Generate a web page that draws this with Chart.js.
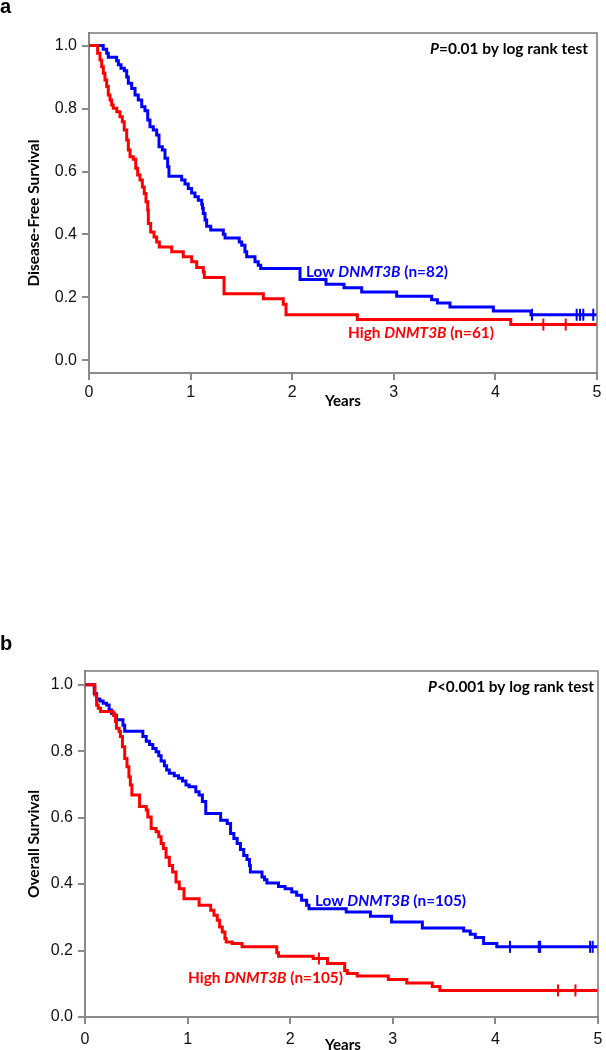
<!DOCTYPE html>
<html>
<head>
<meta charset="utf-8">
<title>DNMT3B survival curves</title>
<script src="https://cdn.jsdelivr.net/npm/chart.js@4"></script>
<style>
  html, body { margin: 0; padding: 0; background: #fff; }
  body { width: 606px; height: 1050px; position: relative; overflow: hidden; }
  canvas { position: absolute; left: 0; }
  #panel_a { top: 0; }
  #panel_b { top: 630px; }
</style>
</head>
<body>
<canvas id="panel_a" width="606" height="420"></canvas>
<canvas id="panel_b" width="606" height="420"></canvas>
<script>
/*
*  Kaplan-Meier curves, low vs high DNMT3B (a: disease-free, b: overall)
*  each series = event times (years) and survival after that event
*/

const xTicks = [0, 1, 2, 3, 4, 5];
const yTicks = [0, 0.2, 0.4, 0.6, 0.8, 1.0];
const yTickLabels = ['0.0', '0.2', '0.4', '0.6', '0.8', '1.0'];

// panel a - disease-free survival
const aLowYears = [0.14, 0.174, 0.19, 0.272, 0.289, 0.315, 0.348, 0.371, 0.387, 0.42, 0.453, 0.485, 0.519, 0.551, 0.578, 0.6, 0.633, 0.666, 0.689, 0.722, 0.748, 0.774, 0.787, 0.912, 0.945, 0.977, 1.01, 1.043, 1.076, 1.109, 1.117, 1.125, 1.142, 1.158, 1.198, 1.322, 1.339, 1.479, 1.503, 1.535, 1.552, 1.634, 1.666, 1.69, 2.077, 2.333, 2.51, 2.684, 3.028, 3.373, 3.429, 3.553, 3.98, 4.35];
const aLowSurv  = [0.988, 0.976, 0.963, 0.952, 0.939, 0.928, 0.92, 0.90, 0.88, 0.864, 0.843, 0.827, 0.806, 0.793, 0.764, 0.742, 0.732, 0.716, 0.679, 0.668, 0.642, 0.615, 0.585, 0.573, 0.56, 0.546, 0.532, 0.52, 0.509, 0.496, 0.483, 0.467, 0.446, 0.426, 0.414, 0.401, 0.389, 0.376, 0.366, 0.345, 0.329, 0.313, 0.302, 0.292, 0.257, 0.242, 0.231, 0.217, 0.204, 0.193, 0.182, 0.17, 0.157, 0.145];
const aLowCensored = [4.36, 4.8, 4.833, 4.865, 4.963];

const aHighYears = [0.085, 0.108, 0.125, 0.141, 0.157, 0.174, 0.19, 0.207, 0.223, 0.239, 0.273, 0.305, 0.328, 0.347, 0.371, 0.387, 0.404, 0.436, 0.46, 0.479, 0.502, 0.525, 0.544, 0.561, 0.578, 0.584, 0.607, 0.64, 0.666, 0.692, 0.814, 0.928, 1.011, 1.06, 1.125, 1.135, 1.329, 1.716, 1.912, 1.939, 2.641, 4.151];
const aHighSurv  = [0.976, 0.954, 0.933, 0.912, 0.891, 0.87, 0.843, 0.827, 0.811, 0.801, 0.79, 0.774, 0.758, 0.732, 0.70, 0.668, 0.647, 0.639, 0.61, 0.589, 0.573, 0.551, 0.53, 0.504, 0.477, 0.435, 0.408, 0.392, 0.376, 0.36, 0.345, 0.329, 0.313, 0.295, 0.281, 0.263, 0.212, 0.196, 0.178, 0.145, 0.130, 0.114];
const aHighCensored = [4.472, 4.692];

// panel b - overall survival
const bLowYears = [0.09, 0.113, 0.145, 0.177, 0.21, 0.235, 0.258, 0.283, 0.307, 0.37, 0.387, 0.564, 0.597, 0.629, 0.661, 0.693, 0.719, 0.742, 0.774, 0.796, 0.822, 0.87, 0.912, 0.951, 0.984, 1.015, 1.08, 1.112, 1.144, 1.177, 1.322, 1.386, 1.419, 1.451, 1.483, 1.515, 1.547, 1.579, 1.603, 1.612, 1.725, 1.75, 1.773, 1.886, 1.95, 2.015, 2.063, 2.111, 2.16, 2.183, 2.546, 2.782, 2.988, 3.288, 3.691, 3.755, 3.804, 3.885, 4.014];
const bLowSurv  = [0.973, 0.957, 0.951, 0.944, 0.939, 0.924, 0.914, 0.907, 0.894, 0.878, 0.86, 0.844, 0.83, 0.82, 0.808, 0.798, 0.786, 0.77, 0.756, 0.743, 0.733, 0.726, 0.718, 0.71, 0.698, 0.693, 0.678, 0.668, 0.648, 0.612, 0.592, 0.582, 0.552, 0.537, 0.522, 0.504, 0.486, 0.474, 0.456, 0.436, 0.421, 0.413, 0.403, 0.393, 0.386, 0.376, 0.366, 0.351, 0.336, 0.326, 0.316, 0.303, 0.286, 0.268, 0.259, 0.249, 0.239, 0.221, 0.211];
const bLowCensored = [4.142, 4.423, 4.436, 4.923, 4.948];

const bHighYears = [0.097, 0.113, 0.129, 0.152, 0.274, 0.297, 0.307, 0.332, 0.345, 0.365, 0.387, 0.409, 0.428, 0.442, 0.457, 0.532, 0.597, 0.612, 0.645, 0.693, 0.719, 0.742, 0.764, 0.79, 0.822, 0.854, 0.887, 0.919, 0.965, 1.112, 1.225, 1.257, 1.289, 1.312, 1.338, 1.364, 1.376, 1.434, 1.531, 1.869, 1.886, 2.224, 2.363, 2.531, 2.556, 2.653, 2.956, 3.136, 3.385, 3.459];
const bHighSurv  = [0.969, 0.939, 0.929, 0.919, 0.909, 0.889, 0.869, 0.859, 0.844, 0.813, 0.778, 0.753, 0.723, 0.698, 0.668, 0.633, 0.623, 0.602, 0.567, 0.557, 0.542, 0.522, 0.507, 0.481, 0.456, 0.436, 0.406, 0.386, 0.356, 0.336, 0.321, 0.306, 0.291, 0.271, 0.256, 0.236, 0.226, 0.221, 0.211, 0.193, 0.183, 0.176, 0.161, 0.140, 0.131, 0.123, 0.113, 0.102, 0.092, 0.080];
const bHighCensored = [2.28, 4.61, 4.78];

const RED = '#ff0000';
const BLUE = '#0000ff';
const AXIS_GRAY = '#8a8a8a';
const TICK_FONT = { family: '"Liberation Sans", Arial, sans-serif', size: 16 };

function kmPoints(years, surv) {
    let pts = [{x: 0, y: 1}];
    years.forEach((t, i) => pts.push({x: t, y: surv[i]}));
    pts.push({x: 5, y: surv[surv.length - 1]});
    return pts;
}

function survivalAt(years, surv, t) {
    let s = 1;
    years.forEach((ti, i) => { if (ti <= t) s = surv[i]; });
    return s;
}

function censorPoints(years, surv, marks) {
    return marks.map(t => ({x: t, y: survivalAt(years, surv, t)}));
}

function richFont(italic) {
    return (italic ? 'italic ' : '') + 'bold 16px Lato, "Open Sans", sans-serif';
}

// draws bold text made of [text, italic] parts, squeezed to the given width
function drawRich(ctx, parts, x, y, width, color) {
    let natural = 0;
    parts.forEach(([txt, it]) => { ctx.font = richFont(it); natural += ctx.measureText(txt).width; });
    ctx.save();
    ctx.translate(x, y);
    ctx.scale(width / natural, 1);
    ctx.fillStyle = color;
    ctx.textBaseline = 'middle';
    let cx = 0;
    parts.forEach(([txt, it]) => {
        ctx.font = richFont(it);
        ctx.fillText(txt, cx, 0);
        cx += ctx.measureText(txt).width;
    });
    ctx.restore();
}

const kmNotes = {
    id: 'kmNotes',
    afterDraw(chart, args, opts) {
        const ctx = chart.ctx, area = chart.chartArea;
        ctx.save();
        // top + right side of the frame
        ctx.strokeStyle = '#7a7a7a';
        ctx.lineWidth = 1.5;
        ctx.beginPath();
        ctx.moveTo(area.left, area.top);
        ctx.lineTo(area.right, area.top);
        ctx.lineTo(area.right, area.bottom);
        ctx.stroke();
        // panel letter
        ctx.fillStyle = '#000';
        ctx.font = 'bold 20px "Liberation Sans", Arial, sans-serif';
        ctx.textBaseline = 'alphabetic';
        ctx.fillText(opts.letter, 0, opts.letterY);
        opts.labels.forEach(l => drawRich(ctx, l.parts, l.x, l.y, l.w, l.color));
        // rotated y title
        ctx.translate(opts.yTitle.x, opts.yTitle.y);
        ctx.rotate(-Math.PI / 2);
        drawRich(ctx, [[opts.yTitle.text, false]], -opts.yTitle.w / 2, 0, opts.yTitle.w, '#000');
        ctx.restore();
    }
};

function lineSet(label, pts, color) {
    return { label: label, data: pts, borderColor: color, borderWidth: 3, stepped: 'before',
             pointRadius: 0, fill: false, tension: 0 };
}

function censorSet(label, pts, color) {
    return { label: label, data: pts, showLine: false, pointStyle: 'line', pointRotation: 90,
             pointRadius: 6, pointBorderWidth: 2, pointBorderColor: color, borderColor: color };
}

function makeKmChart(canvas, cfg) {
    return new Chart(canvas, {
        type: 'line',
        data: { datasets: cfg.datasets },
        options: {
            responsive: false,
            animation: false,
            events: [],
            layout: { padding: { top: cfg.padTop, right: cfg.padRight, left: 0, bottom: 0 } },
            scales: {
                x: {
                    type: 'linear', min: 0, max: 5,
                    afterBuildTicks: s => { s.ticks = xTicks.map(v => ({value: v})); },
                    afterFit: s => { s.height = cfg.xHeight; s.paddingLeft = 0; s.paddingRight = 0; },
                    ticks: { font: TICK_FONT, color: '#111', padding: cfg.xPad, maxRotation: 0,
                             callback: v => String(v) },
                    grid: { drawOnChartArea: false, drawTicks: true, tickLength: 7, color: AXIS_GRAY, lineWidth: 2 },
                    border: { display: true, color: AXIS_GRAY, width: 2 },
                },
                y: {
                    type: 'linear', min: cfg.yMin, max: cfg.yMax,
                    afterBuildTicks: s => { s.ticks = yTicks.map(v => ({value: v})); },
                    afterFit: s => { s.width = cfg.yWidth; },
                    ticks: { font: TICK_FONT, color: '#111', padding: 5,
                             callback: (v, i) => yTickLabels[i] },
                    grid: { drawOnChartArea: false, drawTicks: true, tickLength: 7, color: AXIS_GRAY, lineWidth: 2 },
                    border: { display: true, color: AXIS_GRAY, width: 2 },
                },
            },
            plugins: {
                legend: { display: false },
                tooltip: { enabled: false },
                kmNotes: cfg.notes,
            },
        },
        plugins: [kmNotes],
    });
}

makeKmChart(document.getElementById('panel_a'), {
    padTop: 33, padRight: 9, xHeight: 47, xPad: 3, yWidth: 89, yMin: -0.04, yMax: 1.04,
    datasets: [
        lineSet('High DNMT3B', kmPoints(aHighYears, aHighSurv), RED),
        lineSet('Low DNMT3B', kmPoints(aLowYears, aLowSurv), BLUE),
        censorSet('High censored', censorPoints(aHighYears, aHighSurv, aHighCensored), RED),
        censorSet('Low censored', censorPoints(aLowYears, aLowSurv, aLowCensored), BLUE),
    ],
    notes: {
        letter: 'a', letterY: 13,
        yTitle: { text: 'Disease-Free Survival', x: 34, y: 213, w: 147 },
        labels: [
            { parts: [['P', true], ['=0.01 by log rank test', false]], x: 430, y: 49, w: 158, color: '#000' },
            { parts: [['Low ', false], ['DNMT3B', true], [' (n=82)', false]], x: 306, y: 272, w: 142, color: BLUE },
            { parts: [['High ', false], ['DNMT3B', true], [' (n=61)', false]], x: 348, y: 333, w: 146, color: RED },
            { parts: [['Years', false]], x: 325, y: 401, w: 36, color: '#000' },
        ],
    },
});

makeKmChart(document.getElementById('panel_b'), {
    padTop: 41, padRight: 4, xHeight: 33, xPad: 6, yWidth: 85, yMin: 0, yMax: 1.041,
    datasets: [
        lineSet('High DNMT3B', kmPoints(bHighYears, bHighSurv), RED),
        lineSet('Low DNMT3B', kmPoints(bLowYears, bLowSurv), BLUE),
        censorSet('High censored', censorPoints(bHighYears, bHighSurv, bHighCensored), RED),
        censorSet('Low censored', censorPoints(bLowYears, bLowSurv, bLowCensored), BLUE),
    ],
    notes: {
        letter: 'b', letterY: 20,
        yTitle: { text: 'Overall Survival', x: 34, y: 214, w: 108 },
        labels: [
            { parts: [['P', true], ['<0.001 by log rank test', false]], x: 428, y: 57, w: 166, color: '#000' },
            { parts: [['Low ', false], ['DNMT3B', true], [' (n=105)', false]], x: 315, y: 271, w: 151, color: BLUE },
            { parts: [['High ', false], ['DNMT3B', true], [' (n=105)', false]], x: 188, y: 348, w: 155, color: RED },
            { parts: [['Years', false]], x: 325, y: 415, w: 36, color: '#000' },
        ],
    },
});
</script>
</body>
</html>
